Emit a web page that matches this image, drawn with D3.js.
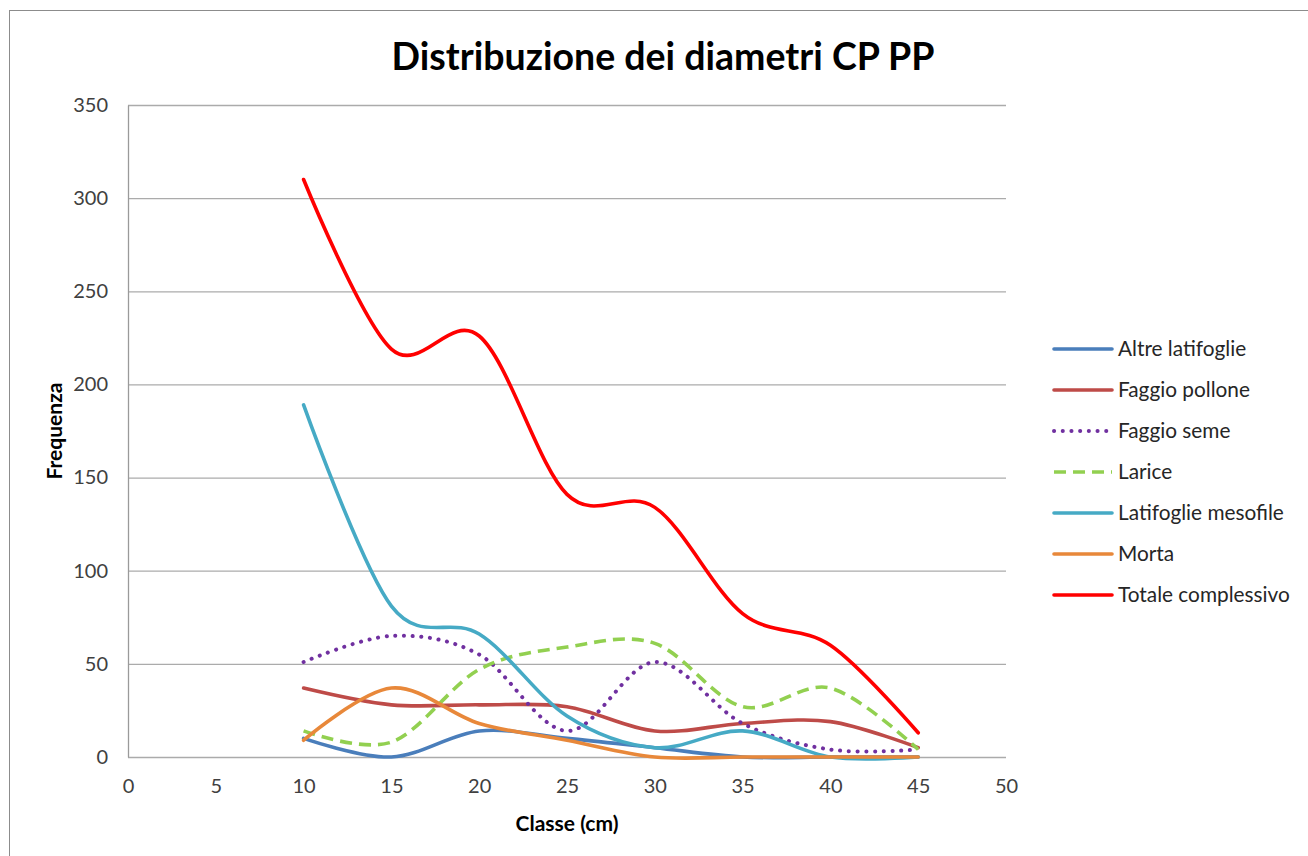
<!DOCTYPE html>
<html>
<head>
<meta charset="utf-8">
<script src="https://cdn.jsdelivr.net/npm/d3@7"></script>
<style>
  html, body { margin: 0; padding: 0; background: #fff; }
  svg { display: block; }
  text { font-family: Lato, "Open Sans", sans-serif; }
</style>
</head>
<body>
<svg id="chart" width="1308" height="856"></svg>
<script>
// Diameter classes (cm)
const classi = [10, 15, 20, 25, 30, 35, 40, 45];

// Frequencies per species group
const altreLatifoglie     = [10, 0, 14, 10, 5, 0, 0, 0];
const faggioPollone       = [37, 28, 28, 27, 14, 18, 19, 5];
const faggioSeme          = [51, 65, 55, 14, 51, 18, 4, 4];
const larice              = [14, 8, 47, 59, 61, 27, 37, 4];
const latifoglieMesofile  = [189, 81, 66, 22, 5, 14, 0, 0];
const morta               = [9, 37, 18, 9, 0, 0, 0, 0];
const totaleComplessivo   = [310, 219, 226, 141, 134, 77, 60, 13];

const xTicks = [0, 5, 10, 15, 20, 25, 30, 35, 40, 45, 50];
const yTicks = [0, 50, 100, 150, 200, 250, 300, 350];

const seriesNames = ["Altre latifoglie", "Faggio pollone", "Faggio seme", "Larice",
                     "Latifoglie mesofile", "Morta", "Totale complessivo"];
const seriesValues = [altreLatifoglie, faggioPollone, faggioSeme, larice,
                      latifoglieMesofile, morta, totaleComplessivo];
const seriesColors = ["#4A7EBB", "#BE4B48", "#7030A0", "#92D050", "#46AAC5", "#E8883A", "#FF0000"];
const seriesDash   = [null, null, "dot", "dash", null, null, null];

const svg = d3.select("#chart");

// Outer chart frame
svg.append("rect")
  .attr("x", 9.5).attr("y", 10.5)
  .attr("width", 1320).attr("height", 870)
  .attr("fill", "#fff")
  .attr("stroke", "#8C8C8C").attr("stroke-width", 1);

const plot = { left: 128, right: 1006, top: 105, bottom: 757 };

const x = d3.scaleLinear().domain([0, 50]).range([plot.left, plot.right]);
const y = d3.scaleLinear().domain([0, 350]).range([plot.bottom, plot.top]);

// Horizontal gridlines
svg.append("g")
  .attr("transform", `translate(${plot.left},0)`)
  .call(d3.axisLeft(y).tickValues(yTicks).tickSize(-(plot.right - plot.left)).tickFormat(""))
  .call(g => g.select(".domain").remove())
  .call(g => g.selectAll("line").attr("stroke", "#ABABAB").attr("stroke-width", 1.3));

// Y axis line and labels
const yAxis = svg.append("g")
  .attr("transform", `translate(${plot.left},0)`)
  .call(d3.axisLeft(y).tickValues(yTicks).tickSize(0).tickPadding(20).tickFormat(d3.format("d")));
yAxis.select(".domain").attr("stroke", "#9A9A9A").attr("stroke-width", 1.3);
yAxis.selectAll("text")
  .attr("font-size", 20).attr("fill", "#404040")
  .attr("font-family", "Lato, 'Open Sans', sans-serif");

// X axis labels
const xAxis = svg.append("g")
  .attr("transform", `translate(0,${plot.bottom})`)
  .call(d3.axisBottom(x).tickValues(xTicks).tickSize(0).tickPadding(22).tickFormat(d3.format("d")));
xAxis.select(".domain").remove();
xAxis.selectAll("text")
  .attr("font-size", 20).attr("fill", "#404040")
  .attr("font-family", "Lato, 'Open Sans', sans-serif");

// Title
svg.append("text")
  .attr("x", 663).attr("y", 70)
  .attr("text-anchor", "middle")
  .attr("font-size", 37.5).attr("font-weight", "bold").attr("fill", "#000")
  .text("Distribuzione dei diametri CP PP");

// Axis titles
svg.append("text")
  .attr("transform", `translate(62,${(plot.top + plot.bottom) / 2}) rotate(-90)`)
  .attr("text-anchor", "middle")
  .attr("font-size", 21).attr("font-weight", "bold").attr("fill", "#000")
  .text("Frequenza");

svg.append("text")
  .attr("x", 567).attr("y", 831)
  .attr("text-anchor", "middle")
  .attr("font-size", 21).attr("font-weight", "bold").attr("fill", "#000")
  .text("Classe (cm)");

// Smoothed series lines
const line = d3.line()
  .x((d, i) => x(classi[i]))
  .y(d => y(d))
  .curve(d3.curveCardinal.tension(0));

function applyStyle(sel, i) {
  sel.attr("fill", "none")
    .attr("stroke", seriesColors[i])
    .attr("stroke-width", 3.6);
  if (seriesDash[i] === "dot") {
    sel.attr("stroke-dasharray", "0.1 8.6").attr("stroke-linecap", "round").attr("stroke-width", 4);
  } else if (seriesDash[i] === "dash") {
    sel.attr("stroke-dasharray", "12 7").attr("stroke-linecap", "butt");
  } else {
    sel.attr("stroke-linecap", "round").attr("stroke-linejoin", "round");
  }
}

const seriesG = svg.append("g");
seriesValues.forEach((vals, i) => {
  seriesG.append("path").datum(vals).attr("d", line).call(applyStyle, i);
});

// Legend
const legend = svg.append("g");
seriesNames.forEach((name, i) => {
  const ly = 349 + i * 41;
  legend.append("line")
    .attr("x1", 1054).attr("x2", 1112)
    .attr("y1", ly).attr("y2", ly)
    .call(applyStyle, i);
  legend.append("text")
    .attr("x", 1118).attr("y", ly + 7)
    .attr("font-size", 20.8).attr("fill", "#262626")
    .text(name);
});
</script>
</body>
</html>
